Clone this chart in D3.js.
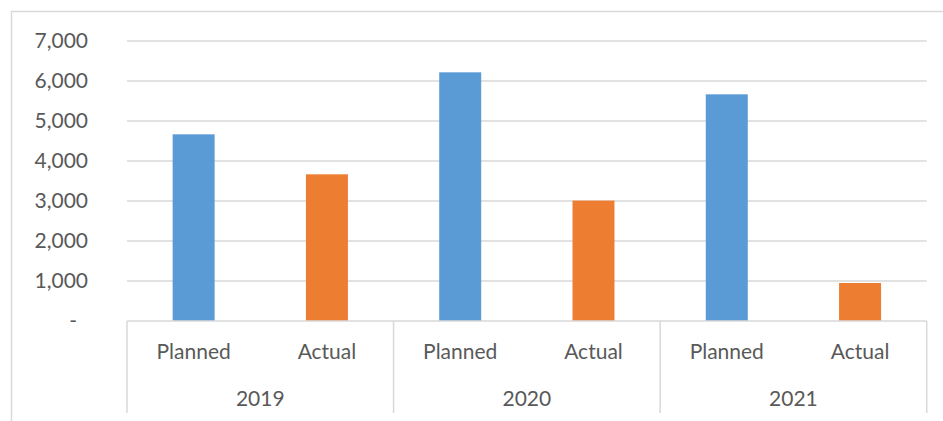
<!DOCTYPE html>
<html>
<head>
<meta charset="utf-8">
<script src="https://cdn.jsdelivr.net/npm/d3@7"></script>
<style>
  html, body { margin: 0; padding: 0; background: #fff; }
  svg { display: block; }
  text { font-family: Lato, "Open Sans", sans-serif; fill: #595959; }
</style>
</head>
<body>
<svg id="chart" width="943" height="421"></svg>
<script>
const years = ["2019", "2020", "2021"];
const kinds = ["Planned", "Actual"];
const planned = [4667, 6217, 5667];
const actual = [3667, 3010, 950];
const yTicks = [0, 1000, 2000, 3000, 4000, 5000, 6000, 7000];
const colors = { Planned: "#5B9BD5", Actual: "#ED7D31" };

const rows = [];
years.forEach((yr, i) => {
  rows.push({ year: yr, kind: "Planned", key: yr + "|Planned", value: planned[i] });
  rows.push({ year: yr, kind: "Actual", key: yr + "|Actual", value: actual[i] });
});

const svg = d3.select("#chart");
const plotL = 127, plotR = 926.7, plotT = 41, plotB = 321, axisB = 413;

// chart border
svg.append("rect").attr("x", 11.5).attr("y", 11.5).attr("width", 960).attr("height", 460)
  .attr("fill", "none").attr("stroke", "#d9d9d9").attr("stroke-width", 1.5);

const y = d3.scaleLinear().domain([0, 7000]).range([plotB, plotT]);
const xYear = d3.scaleBand().domain(years).range([plotL, plotR]).padding(0);
const x = d3.scaleBand().domain(rows.map(d => d.key)).range([plotL, plotR])
  .paddingInner(0.685).paddingOuter(0.3425);
const xCat = d3.scaleBand().domain(rows.map(d => d.key)).range([plotL, plotR]).padding(0);

// gridlines
svg.append("g").selectAll("line").data(yTicks.filter(t => t > 0)).join("line")
  .attr("x1", plotL).attr("x2", plotR)
  .attr("y1", d => y(d)).attr("y2", d => y(d))
  .attr("stroke", "#d9d9d9").attr("stroke-width", 1.5);

// y axis labels
const fmt = d3.format(",");
const yAxis = d3.axisLeft(y).tickValues(yTicks).tickSize(0).tickPadding(0)
  .tickFormat(d => d === 0 ? "-" : fmt(d));
const gy = svg.append("g").attr("transform", "translate(88,0)").call(yAxis);
gy.select(".domain").remove();
gy.selectAll("text").attr("font-size", 21).style("fill", "#595959")
  .style("font-family", "Lato, 'Open Sans', sans-serif")
  .attr("dx", d => d === 0 ? -11 : 0);

// bars
svg.append("g").selectAll("rect").data(rows).join("rect")
  .attr("x", d => x(d.key)).attr("width", x.bandwidth())
  .attr("y", d => y(d.value)).attr("height", d => y(0) - y(d.value))
  .attr("fill", d => colors[d.kind]);

// category axis line
svg.append("line").attr("x1", plotL).attr("x2", plotR).attr("y1", plotB).attr("y2", plotB)
  .attr("stroke", "#d9d9d9").attr("stroke-width", 1.5);

// group separators
const seps = years.map(yr => xYear(yr)).concat([plotR]);
svg.append("g").selectAll("line").data(seps).join("line")
  .attr("x1", d => d).attr("x2", d => d)
  .attr("y1", plotB).attr("y2", axisB)
  .attr("stroke", "#d9d9d9").attr("stroke-width", 1.5);

// category labels
svg.append("g").selectAll("text").data(rows).join("text")
  .attr("x", d => xCat(d.key) + xCat.bandwidth() / 2)
  .attr("y", 359)
  .attr("text-anchor", "middle").attr("font-size", 21)
  .text(d => d.kind);

// year labels
svg.append("g").selectAll("text").data(years).join("text")
  .attr("x", d => xYear(d) + xYear.bandwidth() / 2)
  .attr("y", 406)
  .attr("text-anchor", "middle").attr("font-size", 21)
  .text(d => d);
</script>
</body>
</html>
